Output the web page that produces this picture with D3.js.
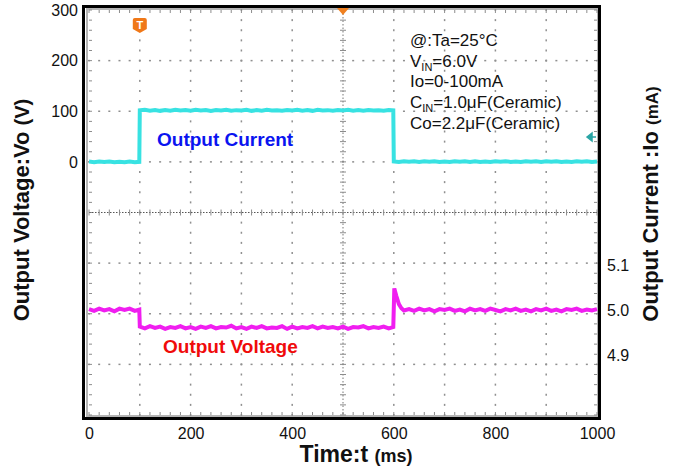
<!DOCTYPE html>
<html>
<head>
<meta charset="utf-8">
<script src="https://cdn.jsdelivr.net/npm/d3@7"></script>
<style>
  body { margin: 0; background: #fff; }
  svg { font-family: Arial, "Liberation Sans", sans-serif; }
</style>
</head>
<body>
<svg id="chart" width="675" height="476"></svg>
<script>
// tick labels
var timeTicks = [0, 200, 400, 600, 800, 1000];
var currentTicks = [0, 100, 200, 300];
var voltageTicks = [4.9, 5.0, 5.1];

// Io trace (ms, mA)
var currentTrace = [[0,0.6],[10,-0.8],[20,0.9],[30,-0.4],[40,0.7],[50,-0.9],[60,0.3],[70,-0.6],[80,0.8],[90,-0.5],[99,0.2],
  [100,101.8],[110,102.9],[120,101.1],[130,102.6],[140,100.8],[150,102.5],[160,101.2],[170,103.0],[180,101.4],[190,102.3],
  [200,100.9],[210,102.8],[220,101.3],[230,102.6],[240,100.7],[250,102.4],[260,101.6],[270,103.1],[280,101.0],[290,102.2],
  [300,101.5],[310,102.9],[320,100.8],[330,102.3],[340,101.2],[350,102.7],[360,101.4],[370,102.1],[380,100.9],[390,102.6],
  [400,101.3],[410,103.0],[420,101.1],[430,102.4],[440,100.8],[450,102.8],[460,101.5],[470,102.2],[480,101.0],[490,102.5],
  [500,101.6],[510,102.9],[520,101.2],[530,102.3],[540,100.9],[550,102.6],[560,101.4],[570,102.0],[580,101.2],[590,102.4],[599,101.6],
  [600,0.9],[610,-0.2],[620,1.3],[630,0.2],[640,1.1],[650,-0.3],[660,1.0],[670,0.1],[680,1.4],[690,-0.1],
  [700,0.8],[710,-0.4],[720,1.2],[730,0.3],[740,1.0],[750,-0.2],[760,1.3],[770,0.0],[780,0.9],[790,-0.3],
  [800,1.1],[810,0.2],[820,1.4],[830,-0.1],[840,0.7],[850,-0.3],[860,1.2],[870,0.1],[880,1.0],[890,-0.2],
  [900,1.3],[910,0.3],[920,1.1],[930,-0.4],[940,0.9],[950,0.0],[960,1.2],[970,0.2],[980,1.3],[990,-0.1],[1000,0.8]];

// Vo trace (ms, V)
var voltageTrace = [[0,5.002],[10,4.998],[20,5.003],[30,4.999],[40,5.002],[50,4.997],[60,5.003],[70,5.000],[80,5.003],[90,4.998],[99,5.001],
  [100,4.963],[110,4.959],[120,4.964],[130,4.960],[140,4.963],[150,4.958],[160,4.962],[170,4.960],[180,4.964],[190,4.959],
  [200,4.962],[210,4.958],[220,4.963],[230,4.960],[240,4.964],[250,4.959],[260,4.962],[270,4.961],[280,4.965],[290,4.959],
  [300,4.962],[310,4.958],[320,4.963],[330,4.960],[340,4.964],[350,4.959],[360,4.961],[370,4.960],[380,4.964],[390,4.958],
  [400,4.963],[410,4.959],[420,4.962],[430,4.960],[440,4.964],[450,4.959],[460,4.963],[470,4.960],[480,4.962],[490,4.959],
  [500,4.963],[510,4.958],[520,4.962],[530,4.961],[540,4.964],[550,4.959],[560,4.962],[570,4.960],[580,4.963],[590,4.959],[599,4.962],
  [601,5.048],[605,5.031],[610,5.013],[615,5.004],[620,4.999],[630,5.002],[640,4.998],[650,5.003],[660,4.999],[670,5.002],
  [680,4.997],[690,5.002],[700,5.000],[710,5.003],[720,4.998],[730,5.001],[740,4.997],[750,5.003],[760,4.999],[770,5.002],
  [780,4.998],[790,5.003],[800,5.000],[810,4.997],[820,5.002],[830,4.999],[840,5.003],[850,4.998],[860,5.001],[870,4.997],
  [880,5.002],[890,4.999],[900,5.003],[910,4.998],[920,5.001],[930,4.997],[940,5.002],[950,5.000],[960,5.003],[970,4.998],
  [980,5.001],[990,4.999],[1000,5.002]];

var notes = [
  {main: "@:Ta=25\u00B0C", sub: "", rest: ""},
  {main: "V", sub: "IN", rest: "=6.0V"},
  {main: "Io=0-100mA", sub: "", rest: ""},
  {main: "C", sub: "IN", rest: "=1.0\u03BCF(Ceramic)"},
  {main: "Co=2.2\u03BCF(Ceramic)", sub: "", rest: ""}
];

var svg = d3.select('#chart');

var x = d3.scaleLinear().domain([0, 1000]).range([89, 597]);
var div = d3.scaleLinear().domain([0, 8]).range([10, 415]);        // scope divisions
var iy = d3.scaleLinear().domain([0, 100]).range([div(3), div(2)]);
var vy = d3.scaleLinear().domain([4.9, 5.1]).range([355, 265]);

var gx = function (d) { return x(d * 100); };   // 10 horizontal divisions

// screen border
svg.append('rect')
   .attr('x', 87).attr('y', 9)
   .attr('width', 511).attr('height', 407)
   .attr('fill', 'none')
   .attr('stroke', '#b4b4b4')
   .attr('stroke-width', 2);

var grid = svg.append('g').attr('fill', '#8f8f8f');
var minorX = d3.range(0, 50.5, 1).map(function (d) { return d / 5; });
var minorY = d3.range(0, 40.5, 1).map(function (d) { return d / 5; });

// dotted grid lines
d3.range(1, 10).forEach(function (c) {
  if (c === 5) return;
  grid.selectAll(null).data(minorY).join('rect')
      .attr('x', gx(c) - 0.75).attr('y', function (d) { return div(d) - 1; })
      .attr('width', 1.5).attr('height', 2);
});
d3.range(1, 8).forEach(function (r) {
  if (r === 4) return;
  grid.selectAll(null).data(minorX).join('rect')
      .attr('x', function (d) { return gx(d) - 1; }).attr('y', div(r) - 0.75)
      .attr('width', 2).attr('height', 1.5);
});

// edge ticks
var ticks = svg.append('g').attr('stroke', '#8c8c8c').attr('stroke-width', 1);
ticks.selectAll(null).data(minorX).join('line')
     .attr('x1', gx).attr('x2', gx).attr('y1', div(0)).attr('y2', div(0) + 3);
ticks.selectAll(null).data(minorX).join('line')
     .attr('x1', gx).attr('x2', gx).attr('y1', div(8)).attr('y2', div(8) - 3);
ticks.selectAll(null).data(minorY).join('line')
     .attr('y1', div).attr('y2', div).attr('x1', gx(0)).attr('x2', gx(0) + 3);
ticks.selectAll(null).data(minorY).join('line')
     .attr('y1', div).attr('y2', div).attr('x1', gx(10)).attr('x2', gx(10) - 3);

// centre cross with ticks
ticks.append('line')
     .attr('x1', gx(0)).attr('x2', gx(10)).attr('y1', div(4)).attr('y2', div(4))
     .attr('stroke', '#555').attr('stroke-dasharray', '1.5,1.5');
ticks.append('line')
     .attr('x1', gx(5)).attr('x2', gx(5)).attr('y1', div(0)).attr('y2', div(8))
     .attr('stroke', '#777').attr('stroke-dasharray', '1.5,2');
ticks.selectAll(null).data(minorX).join('line')
     .attr('x1', gx).attr('x2', gx).attr('y1', div(4) - 3).attr('y2', div(4) + 3);
ticks.selectAll(null).data(minorY).join('line')
     .attr('y1', div).attr('y2', div).attr('x1', gx(5) - 3).attr('x2', gx(5) + 3);

// traces
svg.append('path')
   .datum(currentTrace)
   .attr('fill', 'none')
   .attr('stroke', '#38e2e2')
   .attr('stroke-width', 4)
   .attr('d', d3.line().x(function (d) { return x(d[0]); }).y(function (d) { return iy(d[1]); }));

svg.append('path')
   .datum(voltageTrace)
   .attr('fill', 'none')
   .attr('stroke', '#f01ef0')
   .attr('stroke-width', 4)
   .attr('d', d3.line().x(function (d) { return x(d[0]); }).y(function (d) { return vy(d[1]); }));

// outer frame
svg.append('rect')
   .attr('x', 83.5).attr('y', 6.5)
   .attr('width', 516).attr('height', 412)
   .attr('fill', 'none')
   .attr('stroke', '#000')
   .attr('stroke-width', 3);

// scope markers
var tx = x(100);
svg.append('path')
   .attr('d', 'M' + (tx - 7) + ',20 q0,-2 2,-2 h10 q2,0 2,2 v9 l-7,4 l-7,-4 z')
   .attr('fill', '#f07818');
svg.append('text')
   .attr('x', tx).attr('y', 29)
   .attr('text-anchor', 'middle')
   .attr('font-size', 11).attr('font-weight', 'bold')
   .attr('fill', '#fff')
   .text('T');
svg.append('path')
   .attr('d', 'M' + (x(500) - 6) + ',8 h12 l-6,7 z')
   .attr('fill', '#f08020');
svg.append('path')
   .attr('d', 'M' + (x(1000) - 10) + ',' + 137 + ' l5,-4 v8 z M' + (x(1000) - 6) + ',137 h5')
   .attr('fill', '#2aa5a5').attr('stroke', '#2aa5a5').attr('stroke-width', 1.5);

// axes
var left = svg.append('g')
   .attr('transform', 'translate(84,0)')
   .call(d3.axisLeft(iy).tickValues(currentTicks).tickSize(0).tickPadding(6));
var right = svg.append('g')
   .attr('transform', 'translate(601,0)')
   .call(d3.axisRight(vy).tickValues(voltageTicks).tickFormat(d3.format('.1f')).tickSize(0).tickPadding(6));
var bottom = svg.append('g')
   .attr('transform', 'translate(0,419)')
   .call(d3.axisBottom(x).tickValues(timeTicks).tickFormat(d3.format('d')).tickSize(0).tickPadding(9));
[left, right, bottom].forEach(function (g) {
  g.select('.domain').remove();
  g.selectAll('text').attr('font-size', 16).attr('fill', '#111')
   .attr('font-family', 'Arial, "Liberation Sans", sans-serif');
});

// trace labels
svg.append('text')
   .attr('x', 157).attr('y', 146)
   .attr('font-size', 19).attr('font-weight', 'bold')
   .attr('fill', '#0a14f0')
   .text('Output Current');
svg.append('text')
   .attr('x', 163).attr('y', 353)
   .attr('font-size', 19).attr('font-weight', 'bold')
   .attr('fill', '#f00a0a')
   .text('Output Voltage');

// test conditions
var note = svg.append('g').attr('font-size', 17).attr('fill', '#111');
notes.forEach(function (n, i) {
  var t = note.append('text').attr('x', 410).attr('y', 46 + i * 20.7);
  t.append('tspan').text(n.main);
  if (n.sub) {
    t.append('tspan').attr('font-size', 11).attr('dy', 4).text(n.sub);
    t.append('tspan').attr('dy', -4).text(n.rest);
  }
});

// axis titles
var lt = svg.append('text')
   .attr('transform', 'translate(29,210) rotate(-90)')
   .attr('text-anchor', 'middle')
   .attr('font-weight', 'bold').attr('font-size', 22).attr('fill', '#111');
lt.append('tspan').text('Output Voltage:Vo ');
lt.append('tspan').attr('font-size', 20).text('(V)');

var rt = svg.append('text')
   .attr('transform', 'translate(658,204) rotate(-90)')
   .attr('text-anchor', 'middle')
   .attr('font-weight', 'bold').attr('font-size', 22).attr('fill', '#111');
rt.append('tspan').text('Output Current :Io ');
rt.append('tspan').attr('font-size', 17).text('(mA)');

var bt = svg.append('text')
   .attr('x', 356).attr('y', 462)
   .attr('text-anchor', 'middle')
   .attr('font-weight', 'bold').attr('font-size', 23).attr('fill', '#111');
bt.append('tspan').text('Time:t ');
bt.append('tspan').attr('font-size', 18).text('(ms)');
</script>
</body>
</html>
